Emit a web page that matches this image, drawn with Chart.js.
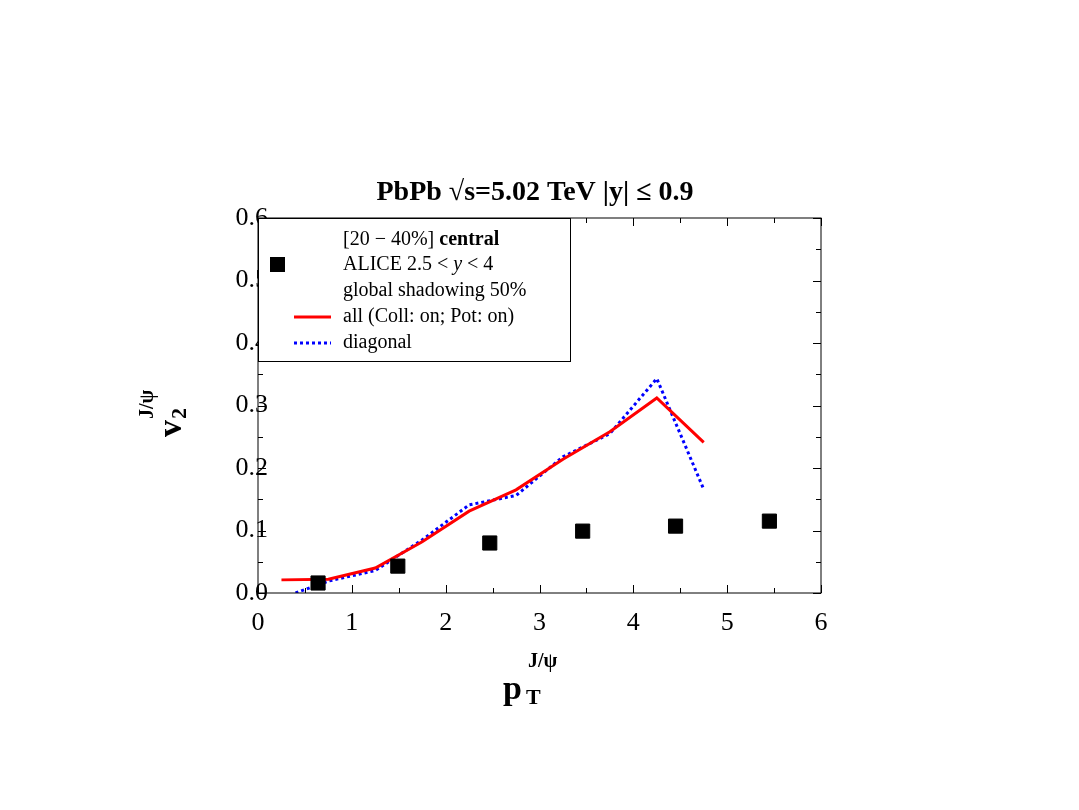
<!DOCTYPE html>
<html><head><meta charset="utf-8">
<script src="https://cdn.jsdelivr.net/npm/chart.js@4"></script>
<style>body{margin:0;background:#fff}</style>
</head><body>
<canvas id="c" width="1079" height="810"></canvas>
<script>
// ALICE data points
const aliceX = [0.64, 1.49, 2.47, 3.46, 4.45, 5.45];
const aliceY = [0.016, 0.043, 0.080, 0.099, 0.107, 0.115];
// model: all (Coll: on; Pot: on)
const allX = [0.25, 0.75, 1.25, 1.75, 2.25, 2.75, 3.25, 3.75, 4.25, 4.75];
const allY = [0.021, 0.022, 0.040, 0.082, 0.131, 0.165, 0.214, 0.258, 0.312, 0.241];
// model: diagonal
const diagX = [0.4, 0.75, 1.25, 1.75, 2.25, 2.75, 3.25, 3.75, 4.25, 4.75];
const diagY = [0.0, 0.019, 0.036, 0.085, 0.141, 0.156, 0.218, 0.255, 0.343, 0.166];
const xTicks = [0, 1, 2, 3, 4, 5, 6];
const yTicks = [0.0, 0.1, 0.2, 0.3, 0.4, 0.5, 0.6];

const pts = (xs, ys) => xs.map((x, i) => ({x: x, y: ys[i]}));
const SERIF = '"Liberation Serif", "DejaVu Serif", serif';

const frame = {
  id: "frame",
  afterDraw(chart) {
    const c = chart.ctx, a = chart.chartArea;
    const xs = chart.scales.x, ys = chart.scales.y;
    c.save();
    c.strokeStyle = "#000"; c.lineWidth = 1;
    c.strokeRect(a.left, a.top, a.right - a.left, a.bottom - a.top);
    // ticks inward on all sides
    c.beginPath();
    for (let v = 0; v <= 6.001; v += 0.5) {
      const p = Math.round(xs.getPixelForValue(v)) + 0.5;
      const L = Math.abs(v - Math.round(v)) < 1e-6 ? 8 : 5;
      c.moveTo(p, a.bottom); c.lineTo(p, a.bottom - L);
      c.moveTo(p, a.top); c.lineTo(p, a.top + L);
    }
    for (let v = 0; v <= 0.6001; v += 0.05) {
      const p = Math.round(ys.getPixelForValue(v)) + 0.5;
      const L = Math.abs(v * 10 - Math.round(v * 10)) < 1e-6 ? 8 : 5;
      c.moveTo(a.left, p); c.lineTo(a.left + L, p);
      c.moveTo(a.right, p); c.lineTo(a.right - L, p);
    }
    c.stroke();
    c.fillStyle = "#000";
    c.font = "26px " + SERIF;
    c.textAlign = "center"; c.textBaseline = "middle";
    xTicks.forEach(v => c.fillText(String(v), xs.getPixelForValue(v), a.bottom + 30));
    c.textAlign = "right";
    yTicks.forEach(v => c.fillText(v.toFixed(1), 268, ys.getPixelForValue(v)));
    // title
    c.font = "bold 28px " + SERIF;
    c.textAlign = "center";
    c.fillText("PbPb \u221As=5.02 TeV |y| \u2264 0.9", 535, 193);
    // x title
    c.textAlign = "left";
    c.font = "bold 34px " + SERIF;
    c.fillText("p", 503, 690);
    c.font = "bold 22px " + SERIF;
    c.fillText("T", 526, 698);
    c.font = "bold 20px " + SERIF;
    c.fillText("J/\u03c8", 528, 662);
    // y title
    c.save();
    c.translate(172, 405); c.rotate(-Math.PI / 2);
    c.font = "bold 34px " + SERIF;
    c.fillText("v", -32, 0);
    c.font = "bold 22px " + SERIF;
    c.fillText("2", -14, 8);
    c.font = "bold 20px " + SERIF;
    c.fillText("J/\u03c8", -14, -24);
    c.restore();
    // legend
    c.fillStyle = "#fff";
    c.fillRect(a.left, a.top, 312, 143);
    c.strokeRect(a.left + 0.5, a.top + 0.5, 312, 143);
    c.fillStyle = "#000";
    c.fillRect(270, 257, 15, 15);
    c.font = "20px " + SERIF;
    c.fillText("[20 \u2212 40%] ", 343, 240);
    const w = c.measureText("[20 \u2212 40%] ").width;
    c.font = "bold 20px " + SERIF;
    c.fillText("central", 343 + w, 240);
    c.font = "20px " + SERIF;
    c.fillText("ALICE 2.5 < ", 343, 265);
    let w2 = c.measureText("ALICE 2.5 < ").width;
    c.font = "italic 20px " + SERIF;
    c.fillText("y", 343 + w2, 265);
    w2 += c.measureText("y").width;
    c.font = "20px " + SERIF;
    c.fillText(" < 4", 343 + w2, 265);
    c.fillText("global shadowing 50%", 343, 291);
    c.fillText("all (Coll: on; Pot: on)", 343, 317);
    c.fillText("diagonal", 343, 343);
    c.lineWidth = 3;
    c.strokeStyle = "#f00";
    c.beginPath(); c.moveTo(294, 317); c.lineTo(331, 317); c.stroke();
    c.strokeStyle = "#00f"; c.setLineDash([3, 3]);
    c.beginPath(); c.moveTo(294, 343); c.lineTo(331, 343); c.stroke();
    c.restore();
  }
};

new Chart(document.getElementById("c"), {
  type: "scatter",
  data: {
    datasets: [
      {label: "diagonal", data: pts(diagX, diagY), showLine: true, borderColor: "#0000ff",
       borderWidth: 3, borderDash: [3, 3], pointRadius: 0, order: 2},
      {label: "all", data: pts(allX, allY), showLine: true, borderColor: "#ff0000",
       borderWidth: 3, pointRadius: 0, order: 1},
      {label: "ALICE", data: pts(aliceX, aliceY), pointStyle: "rect", pointRadius: 10,
       backgroundColor: "#000", borderColor: "#000", order: 0}
    ]
  },
  options: {
    responsive: false,
    animation: false,
    layout: {padding: {left: 0, top: 218, right: 258, bottom: 0}},
    plugins: {legend: {display: false}, tooltip: {enabled: false}},
    scales: {
      x: {type: "linear", min: 0, max: 6, grid: {display: false}, border: {display: false},
          ticks: {display: false}, afterFit: s => { s.height = 217; }},
      y: {type: "linear", min: 0, max: 0.6, grid: {display: false}, border: {display: false},
          ticks: {display: false}, afterFit: s => { s.width = 258; }}
    }
  },
  plugins: [frame]
});
</script>
</body></html>
